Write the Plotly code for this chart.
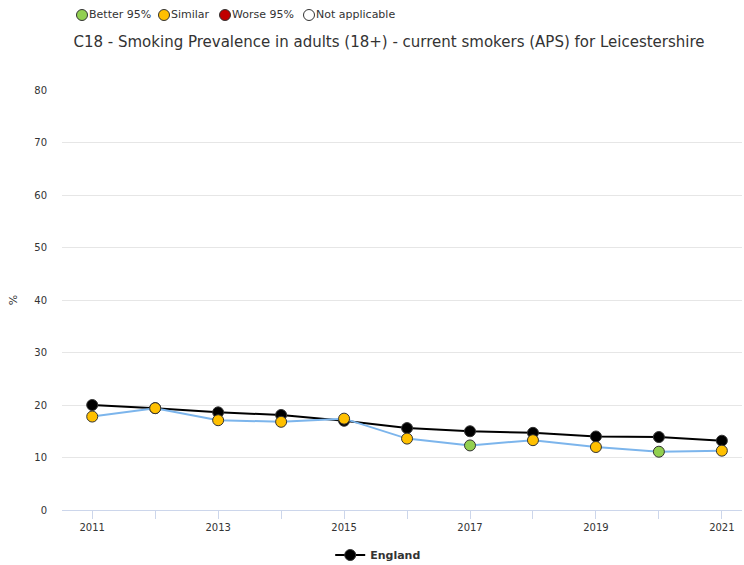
import plotly.graph_objects as go

years = [2011, 2012, 2013, 2014, 2015, 2016, 2017, 2018, 2019, 2020, 2021]
england = [20.0, 19.4, 18.6, 18.1, 17.0, 15.6, 15.0, 14.7, 14.0, 13.9, 13.2]
leicestershire = [17.8, 19.4, 17.1, 16.8, 17.4, 13.6, 12.3, 13.3, 12.0, 11.1, 11.3]
comparison = ["Similar", "Similar", "Similar", "Similar", "Similar", "Similar",
              "Better", "Similar", "Similar", "Better", "Similar"]

status_colours = {"Better": "#92d050", "Similar": "#ffc000", "Worse": "#c00000", "Not applicable": "#ffffff"}
key_labels = ["Better 95%", "Similar", "Worse 95%", "Not applicable"]
key_colours = ["#92d050", "#ffc000", "#c00000", "#ffffff"]
key_px = [82, 164, 225, 309]

font = "DejaVu Sans"

fig = go.Figure()
fig.add_trace(go.Scatter(
    x=years, y=england, name="England", mode="lines+markers",
    line=dict(color="#000000", width=2),
    marker=dict(size=11, color="#000000", line=dict(color="#333333", width=1)),
))
fig.add_trace(go.Scatter(
    x=years, y=leicestershire, name="Leicestershire", mode="lines+markers",
    line=dict(color="#7cb5ec", width=2),
    marker=dict(size=11, color=[status_colours[c] for c in comparison],
                line=dict(color="#333333", width=1)),
    showlegend=False,
))

# top key (comparison colours)
W, H, L, T = 680, 420, 62, 90
shapes = []
annotations = []
for lab, col, px in zip(key_labels, key_colours, key_px):
    cx = (px - L) / W
    cy = (T + H - 15) / H
    rx, ry = 5.5 / W, 5.5 / H
    shapes.append(dict(type="circle", xref="paper", yref="paper",
                       x0=cx - rx, x1=cx + rx, y0=cy - ry, y1=cy + ry,
                       fillcolor=col, line=dict(color="#333333", width=1)))
    annotations.append(dict(text=lab, xref="paper", yref="paper",
                            x=(px + 5 - L) / W, y=cy, xanchor="left", yanchor="middle",
                            showarrow=False, font=dict(family=font, size=11, color="#333333")))

fig.update_layout(
    width=744, height=565,
    margin=dict(l=L, r=744 - L - W, t=T, b=565 - T - H, autoexpand=False),
    paper_bgcolor="white", plot_bgcolor="white",
    font=dict(family=font, color="#333333"),
    title=dict(text="C18 - Smoking Prevalence in adults (18+) - current smokers (APS) for Leicestershire",
               x=389 / 744, xanchor="center", y=1 - 42 / 565, yanchor="middle",
               font=dict(family=font, size=15, color="#333333")),
    shapes=shapes,
    annotations=annotations,
    legend=dict(orientation="h", x=0.465, xanchor="center", y=-(555 - 510) / H, yanchor="middle",
                itemwidth=30,
                font=dict(family=font, size=11, color="#333333", weight="bold")),
    xaxis=dict(range=[2010.52, 2021.32], tickmode="array", tickvals=years,
               ticktext=[str(y) if (y - 2011) % 2 == 0 else "" for y in years],
               showgrid=False, showline=True, linecolor="#ccd6eb", ticks="outside",
               tickcolor="#ccd6eb", ticklen=8, zeroline=False, automargin=False,
               tickfont=dict(family=font, size=10, color="#333333")),
    yaxis=dict(range=[0, 80], dtick=10, showgrid=True, gridcolor="#e6e6e6", zeroline=False,
               automargin=False, ticklabelstandoff=14,
               title=dict(text="%", font=dict(family=font, size=11, color="#333333"), standoff=14),
               tickfont=dict(family=font, size=10, color="#333333")),
)

fig.write_html("out.html", config={"displayModeBar": False},
               post_script="document.body.style.margin='0';")
